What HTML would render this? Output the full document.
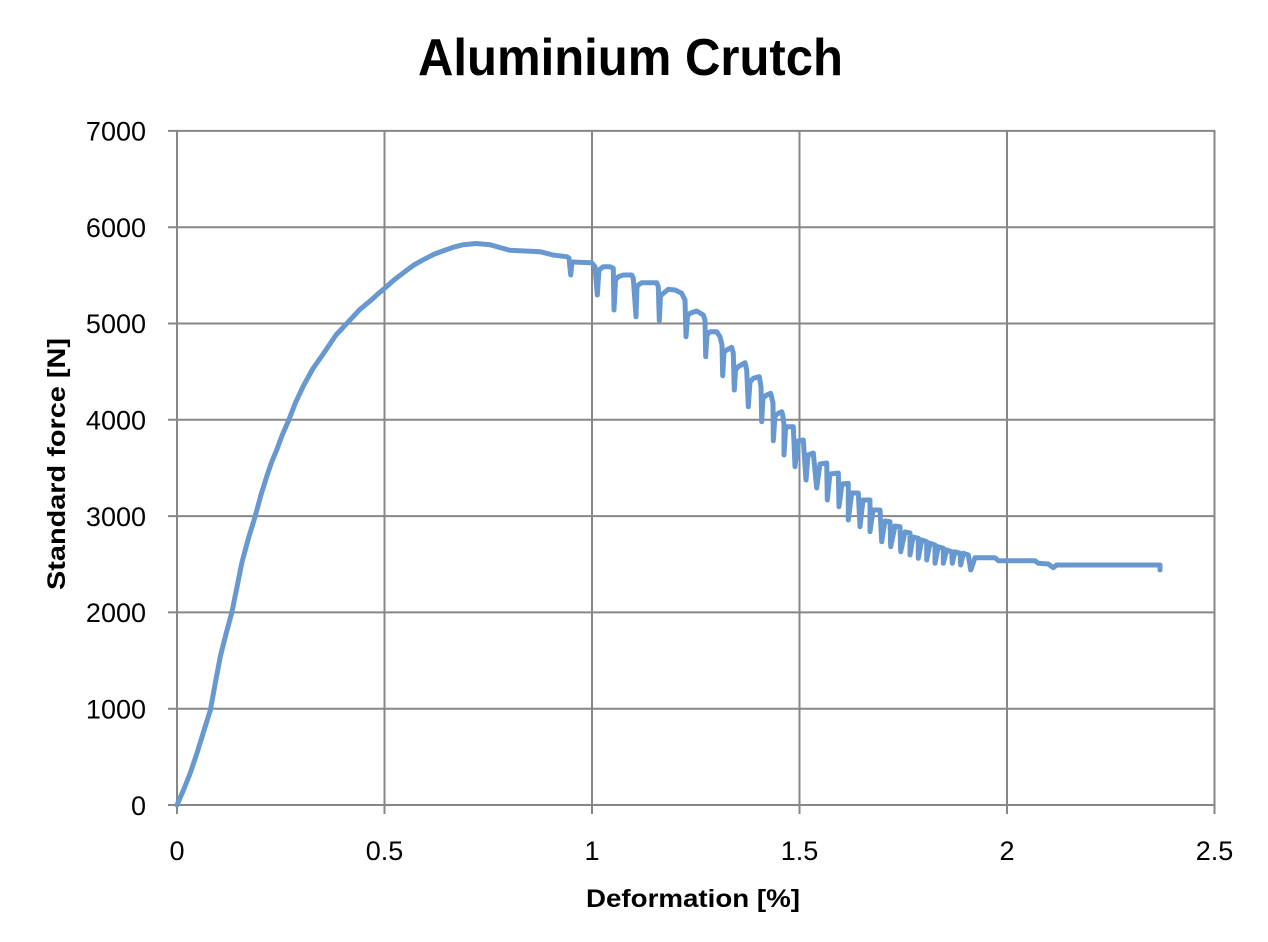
<!DOCTYPE html>
<html>
<head>
<meta charset="utf-8">
<style>
html,body{margin:0;padding:0;background:#fff;}
svg{display:block;}
text{font-family:"Liberation Sans",sans-serif;fill:#000;}
</style>
</head>
<body>
<svg width="1268" height="942" viewBox="0 0 1268 942" xmlns="http://www.w3.org/2000/svg">
<rect width="1268" height="942" fill="#fff"/>
<!-- title -->
<text x="418" y="75" font-size="52" font-weight="bold" textLength="425" lengthAdjust="spacingAndGlyphs">Aluminium Crutch</text>
<!-- grid -->
<g stroke="#878787" stroke-width="2" fill="none">
<line x1="168" y1="805" x2="1215" y2="805"/>
<line x1="168" y1="708.7" x2="1215" y2="708.7"/>
<line x1="168" y1="612.4" x2="1215" y2="612.4"/>
<line x1="168" y1="516.1" x2="1215" y2="516.1"/>
<line x1="168" y1="419.8" x2="1215" y2="419.8"/>
<line x1="168" y1="323.5" x2="1215" y2="323.5"/>
<line x1="168" y1="227.2" x2="1215" y2="227.2"/>
<line x1="168" y1="130.9" x2="1215" y2="130.9"/>
<line x1="177" y1="130" x2="177" y2="814"/>
<line x1="384.5" y1="130" x2="384.5" y2="814"/>
<line x1="592" y1="130" x2="592" y2="814"/>
<line x1="799.5" y1="130" x2="799.5" y2="814"/>
<line x1="1007" y1="130" x2="1007" y2="814"/>
<line x1="1214.5" y1="130" x2="1214.5" y2="814"/>
</g>
<!-- y tick labels -->
<g font-size="27" text-anchor="end">
<text x="146" y="815">0</text>
<text x="146" y="718.5">1000</text>
<text x="146" y="622">2000</text>
<text x="146" y="526">3000</text>
<text x="146" y="429.5">4000</text>
<text x="146" y="333">5000</text>
<text x="146" y="237">6000</text>
<text x="146" y="140.5">7000</text>
</g>
<!-- x tick labels -->
<g font-size="27" text-anchor="middle">
<text x="177" y="860">0</text>
<text x="384.5" y="860">0.5</text>
<text x="592" y="860">1</text>
<text x="799.5" y="860">1.5</text>
<text x="1007" y="860">2</text>
<text x="1214.5" y="860">2.5</text>
</g>
<!-- axis titles -->
<text x="586" y="907" font-size="25" font-weight="bold" textLength="214" lengthAdjust="spacingAndGlyphs">Deformation [%]</text>
<text transform="translate(65,590) rotate(-90)" x="0" y="0" font-size="25" font-weight="bold" textLength="252" lengthAdjust="spacingAndGlyphs">Standard force [N]</text>
<!-- series -->
<polyline fill="none" stroke="#6898d0" stroke-width="5" stroke-linejoin="round" stroke-linecap="round" points="
177,805 183.5,790 190.3,773 197,753 203.6,731.7 210.3,710.3 215.5,682 220.3,656.5 226,634 231.9,612.1 237,587 241.9,562.5 248.3,538.8 255.2,516.2 260.8,495.5 266.9,476 271.6,462.2 276.8,449.7 282.4,434.6 288.5,420.7 295.6,402.4 303.5,385.7 313,368.5 323.4,353.7 336,335 350.1,319.9 359.5,309.8 370,301.1 377.5,294.3 385,288 394,280 403.3,272.9 413,265.6 423.3,259.7 434.5,254 446.6,249.6 455,246.8 463.2,244.7 476,243.5 489.8,244.7 509.8,250.3 540,251.7 553,255 566.7,256.7 569,258 570.7,275 572,262 591.7,262.7 595,266.7 597.3,295 599,270 603.3,266.7 610,266.7 613.3,268.3 614,310 615.5,280 618.3,276.7 623.3,275 631.7,275 633.3,278.3 636,316.7 637,287 638.3,285 641.7,282.7 656.7,282.7 658.3,286.7 659.3,320.7 660.5,296 663.3,293.3 668.3,289.3 675,290 681.7,293.3 685,300 686,336.7 687.5,316 690,313.3 696.7,311 703.3,315 705,320 705.7,356.7 707,335 710,331.7 716.7,331.7 720,336.7 722,345 722.7,375.7 724,352 726.7,350 731.7,347.3 733.3,353.3 734.3,390 735.5,370 738.3,366.7 745,362.7 746.7,370 748.3,406.7 750,382 753.3,378.3 759.3,376.7 761,386.7 761.7,421.7 763,398 766.7,395 770.7,393.3 773,403 773.3,440.7 775,416 778.3,413.3 781.7,411.7 782.7,415 784,425 784,455 785.5,430 786.7,426.7 793.3,426.7 795,466.7 798,441 803.3,440 806,480 808,455 813.3,453 816.7,488 820,464 826.7,463 827.3,500 830,474 838.3,473 839,506.7 842,484 848.3,483.3 848.3,520 851.7,493 858.3,493 860,526.7 863,500 870,500 870,531.7 873,510 880,510 881.7,541.7 885,521 890,521.7 890.7,546.7 895,526 900,526.7 900.7,551.7 905,532 910,533 910,555 913,537 918.3,538.3 918.3,558.3 921.7,540 926.7,541.7 926.7,560 930,543.3 935,545 935,563.3 938.3,546.7 943.3,548.3 943.3,563.3 946.7,550 951.7,551.7 952.3,563.3 955,551.7 960,553.3 960.7,565 963.3,553.3 968.3,555 970.7,570 975,557.7 995,557.7 998.3,560.7 1035,560.7 1038.3,563.3 1048.3,564 1053.3,567.7 1056.7,565 1160,565 1160,570"/>
</svg>
</body>
</html>
